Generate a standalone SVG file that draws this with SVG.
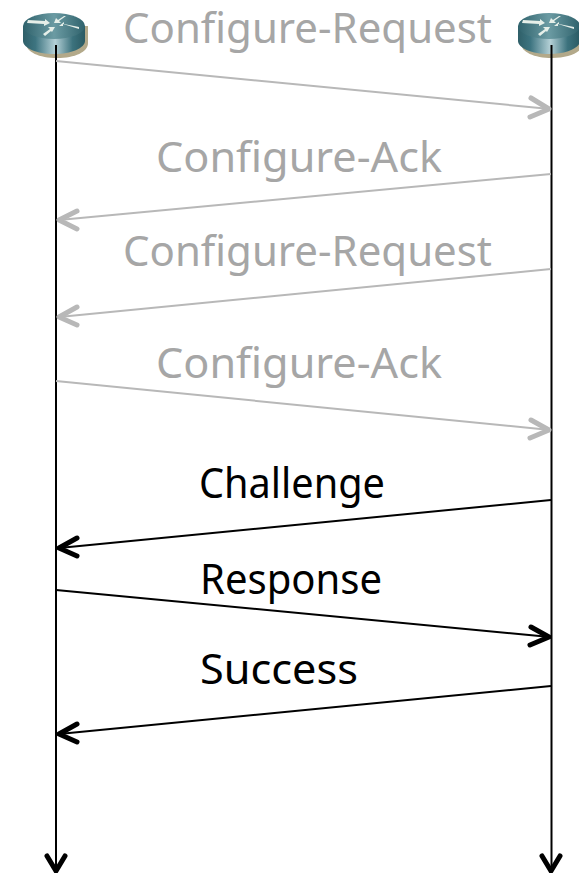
<svg xmlns="http://www.w3.org/2000/svg" width="579" height="873" viewBox="0 0 579 873">
<style>
.t{font-family:"Comic Sans MS","Noto Sans",sans-serif;font-size:41px}
.g{fill:#a6a6a6}.k{fill:#000}
.life{stroke:#000;stroke-width:2;fill:none}
.m{stroke-width:2;fill:none}
.head{stroke-width:5;fill:none;stroke-linecap:round;stroke-linejoin:round}
.gl{stroke:#b8b8b8}.bl{stroke:#000}
.ar{fill:#e6efe9}
</style>
<defs>
<linearGradient id="side" x1="0" x2="1" y1="0" y2="0"><stop offset="0" stop-color="#2f5f68"/><stop offset=".2" stop-color="#3d7480"/><stop offset=".52" stop-color="#b4d0d6"/><stop offset=".8" stop-color="#3c727d"/><stop offset="1" stop-color="#2a5a63"/></linearGradient>
<linearGradient id="top" x1="0" x2="1" y1="0" y2="0"><stop offset="0" stop-color="#2f626c"/><stop offset=".5" stop-color="#6b9ba3"/><stop offset="1" stop-color="#2f626c"/></linearGradient>
<g id="router">
<path d="M-28 0V17C-28 26-15 32 3 32S34 26 34 17V0Z" fill="#b3a98a"/>
<path d="M-31 0V15C-31 22-17 28 0 28S31 22 31 15V0Z" fill="url(#side)"/>
<ellipse cx="0" cy="0" rx="31" ry="13" fill="url(#top)"/>
<path class="ar" d="M-26 -6L-9 -5-9 -7-4 -3-10 0-10 -2-27 -3Z"/>
<path class="ar" d="M25 3L9 -2 9 0 5 0 10 -4 10 -2 25 1Z"/>
<path class="ar" d="M12 -10L5 -5 7 -3 0 -3 2 -8 4 -6 10 -10Z"/>
<path class="ar" d="M-11 8L-4 3-6 1 1 1-2 6-3 5-9 10Z"/>
</g>
</defs>
<g id="router-left"><use href="#router" x="54" y="26"/></g>
<g id="router-right"><use href="#router" x="549" y="26"/></g>
<g id="connectors">
<path class="life" d="M56 45V869"/>
<path class="life" d="M551.500 45V869"/>
<path class="head bl" d="M47 856L56 871 65 856"/>
<path class="head bl" d="M542 856L551 871 560 856"/>
<g>
<path class="m gl" d="M56 61L550 109"/><path class="head gl" d="M531 98L549 109 530 117"/>
<path class="m gl" d="M551 174L59 220"/><path class="head gl" d="M77 211L59 220 77 229"/>
<path class="m gl" d="M551 269L59 317"/><path class="head gl" d="M77 307L59 317 77 325"/>
<path class="m gl" d="M56 381L550 430"/><path class="head gl" d="M531 420L549 430 530 438"/>
</g>
<g>
<path class="m bl" d="M551 500L59 548"/><path class="head bl" d="M77 538L59 548 77 556"/>
<path class="m bl" d="M56 590L550 637"/><path class="head bl" d="M531 627L549 637 530 645"/>
<path class="m bl" d="M551 686L59 734"/><path class="head bl" d="M77 724L59 734 77 742"/>
</g>
</g>
<g id="labels">
<text class="t g" x="123" y="43" textLength="369" lengthAdjust="spacingAndGlyphs">Configure-Request</text>
<text class="t g" x="156" y="172" textLength="286" lengthAdjust="spacingAndGlyphs">Configure-Ack</text>
<text class="t g" x="123" y="266" textLength="369" lengthAdjust="spacingAndGlyphs">Configure-Request</text>
<text class="t g" x="156" y="378" textLength="286" lengthAdjust="spacingAndGlyphs">Configure-Ack</text>
<text class="t k" x="199" y="498" textLength="186" lengthAdjust="spacingAndGlyphs">Challenge</text>
<text class="t k" x="200" y="594" textLength="182" lengthAdjust="spacingAndGlyphs">Response</text>
<text class="t k" x="200" y="684" textLength="158" lengthAdjust="spacingAndGlyphs">Success</text>
</g>
</svg>
